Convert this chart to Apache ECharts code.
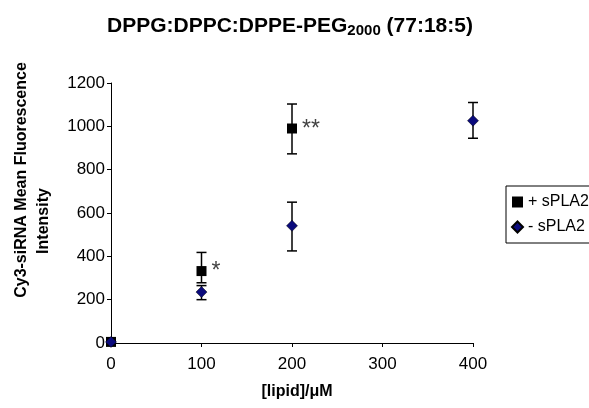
<!DOCTYPE html>
<html>
<head>
<meta charset="utf-8">
<title>DPPG:DPPC:DPPE-PEG2000</title>
<script src="https://cdn.jsdelivr.net/npm/echarts@6/dist/echarts.min.js"></script>
<style>
  html, body { margin: 0; padding: 0; background: #fff; }
  #main { width: 589px; height: 408px; }
</style>
</head>
<body>
<div id="main"></div>
<script>
// data
var plusX = [0, 100, 200];
var plusMean = [5, 332, 990];
var plusLow = [5, 278, 873];
var plusHigh = [5, 418, 1103];
var plusStars = ['', '*', '**'];

var minusX = [0, 100, 200, 400];
var minusMean = [5, 235, 541, 1026];
var minusLow = [5, 200, 425, 945];
var minusHigh = [5, 265, 650, 1110];

var myChart = echarts.init(document.getElementById('main'));

function errData(xs, lo, hi) {
  var out = [];
  for (var i = 0; i < xs.length; i++) {
    if (hi[i] - lo[i] > 0) out.push([xs[i], lo[i], hi[i]]);
  }
  return out;
}

// vertical bar with caps
function renderErr(params, api) {
  var top = api.coord([api.value(0), api.value(2)]);
  var bot = api.coord([api.value(0), api.value(1)]);
  var w = 5;
  var st = { stroke: '#000', lineWidth: 1.5 };
  return {
    type: 'group',
    children: [
      { type: 'line', shape: { x1: top[0], y1: top[1], x2: bot[0], y2: bot[1] }, style: st },
      { type: 'line', shape: { x1: top[0] - w, y1: top[1], x2: top[0] + w, y2: top[1] }, style: st },
      { type: 'line', shape: { x1: bot[0] - w, y1: bot[1], x2: bot[0] + w, y2: bot[1] }, style: st }
    ]
  };
}

var plusData = plusX.map(function (x, i) {
  return {
    value: [x, plusMean[i]],
    label: {
      show: plusStars[i] !== '',
      formatter: plusStars[i],
      position: 'right',
      distance: 5,
      offset: [0, 1],
      fontSize: 23,
      color: '#444'
    }
  };
});
var minusData = minusX.map(function (x, i) { return [x, minusMean[i]]; });

var axisFont = { fontFamily: 'Liberation Sans, Arial', fontSize: 17, color: '#000' };

option = {
  animation: false,
  title: {
    text: '{a|DPPG:DPPC:DPPE-PEG}{s|2000}{a| (77:18:5)}',
    left: 102,
    top: 10,
    textStyle: {
      rich: {
        a: { fontFamily: 'Liberation Sans, Arial', fontSize: 21, fontWeight: 'bold', color: '#000' },
        s: { fontFamily: 'Liberation Sans, Arial', fontSize: 15, fontWeight: 'bold', color: '#000', padding: [8, 0, 0, 0] }
      }
    }
  },
  legend: {
    data: [
      { name: '+ sPLA2', icon: 'rect' },
      { name: '- sPLA2', icon: 'diamond' }
    ],
    orient: 'vertical',
    left: 506,
    top: 186,
    padding: [8, 10, 8, 5],
    itemGap: 9,
    itemWidth: 11,
    itemHeight: 11,
    borderColor: '#000',
    borderWidth: 1,
    borderRadius: 0,
    textStyle: { fontFamily: 'Liberation Sans, Arial', fontSize: 16, color: '#000' }
  },
  grid: { left: 111, right: 116, top: 83, bottom: 65, containLabel: false, outerBoundsMode: 'none' },
  xAxis: {
    type: 'value',
    min: 0,
    max: 400,
    interval: 100,
    name: '[lipid]/\u03bcM',
    nameLocation: 'middle',
    nameGap: 41,
    nameTextStyle: { fontFamily: 'Liberation Sans, Arial', fontSize: 16, fontWeight: 'bold', color: '#000', padding: [0, 0, 0, 10] },
    axisLine: { lineStyle: { color: '#000', width: 1 } },
    axisTick: { length: 4, lineStyle: { color: '#000' } },
    axisLabel: Object.assign({ margin: 13 }, axisFont),
    splitLine: { show: false }
  },
  yAxis: {
    type: 'value',
    min: 0,
    max: 1200,
    interval: 200,
    name: '{a|Cy3-siRNA Mean Fluorescence}\n{b|Intensity}',
    nameLocation: 'middle',
    nameGap: 56,
    nameTextStyle: {
      rich: {
        a: { fontFamily: 'Liberation Sans, Arial', fontSize: 16, fontWeight: 'bold', color: '#000', lineHeight: 22, padding: [0, 0, 0, 66] },
        b: { fontFamily: 'Liberation Sans, Arial', fontSize: 16, fontWeight: 'bold', color: '#000', lineHeight: 22, padding: [0, 16, 0, 0] }
      }
    },
    axisLine: { show: true, lineStyle: { color: '#000', width: 1 } },
    axisTick: { show: true, length: 4, lineStyle: { color: '#000' } },
    axisLabel: Object.assign({ margin: 6, formatter: function (v) { return String(v); } }, axisFont),
    splitLine: { show: false }
  },
  series: [
    {
      name: 'err-',
      type: 'custom',
      renderItem: renderErr,
      data: errData(minusX, minusLow, minusHigh),
      z: 2
    },
    {
      name: 'err+',
      type: 'custom',
      renderItem: renderErr,
      data: errData(plusX, plusLow, plusHigh),
      z: 2
    },
    {
      name: '- sPLA2',
      type: 'scatter',
      symbol: 'diamond',
      symbolSize: 11,
      itemStyle: { color: '#0b0b7d', opacity: 1, borderColor: '#000', borderWidth: 0.5 },
      data: minusData,
      z: 4
    },
    {
      name: '+ sPLA2',
      type: 'scatter',
      symbol: 'rect',
      symbolSize: 10,
      itemStyle: { color: '#000', opacity: 1 },
      data: plusData,
      z: 3
    }
  ]
};

myChart.setOption(option);
</script>
</body>
</html>
